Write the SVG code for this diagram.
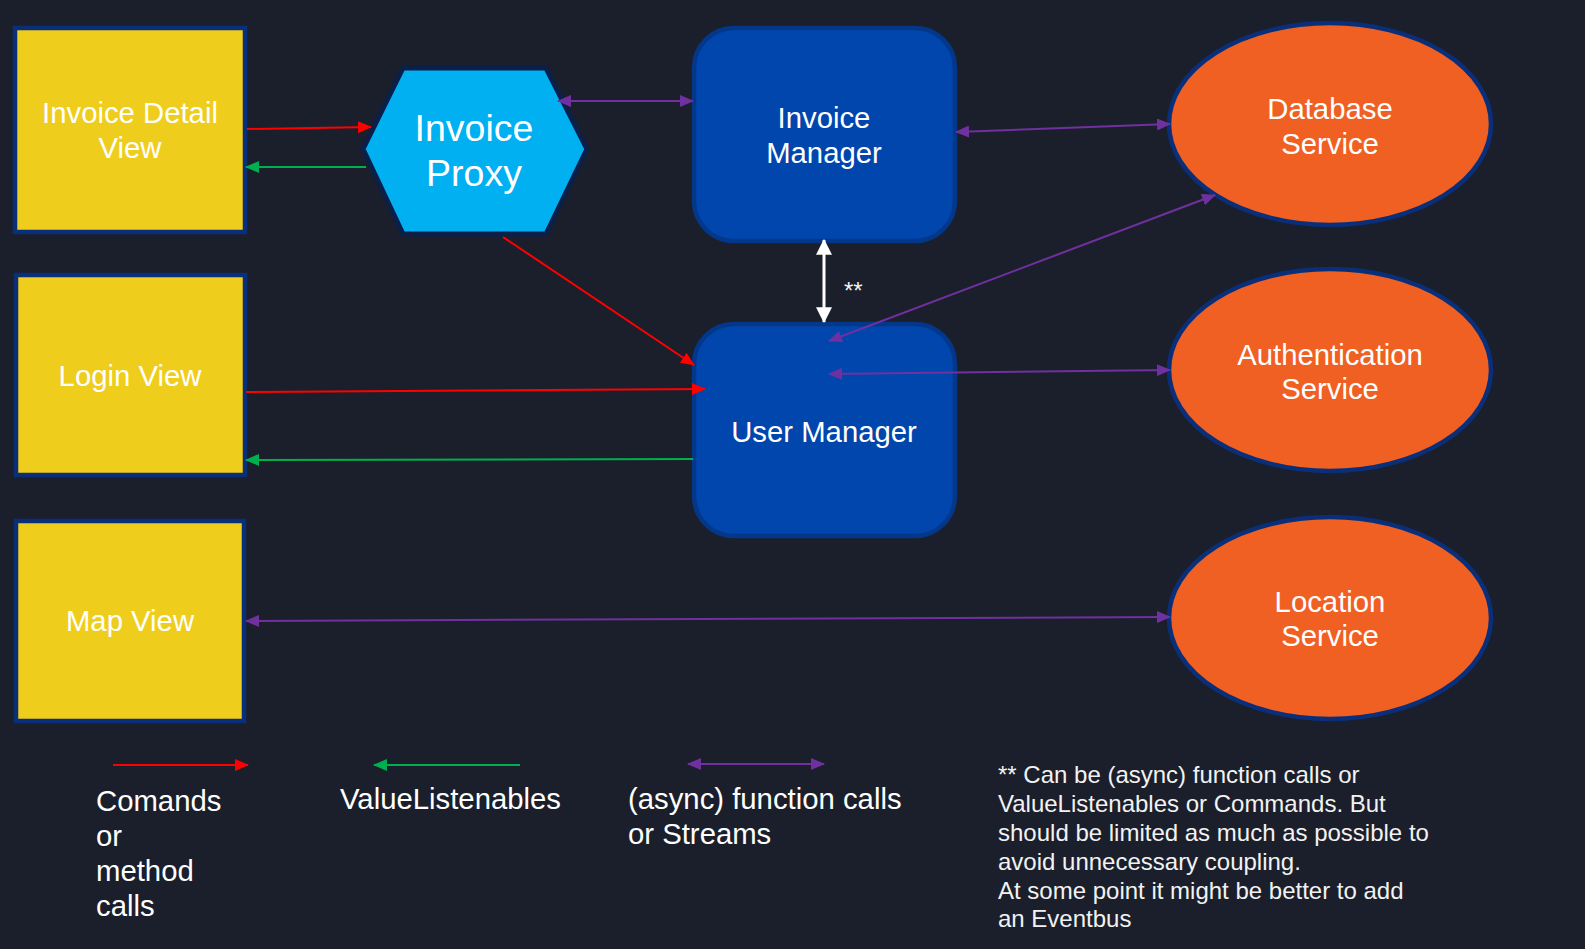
<svg xmlns="http://www.w3.org/2000/svg" width="1585" height="949" viewBox="0 0 1585 949">
<defs>
<marker id="aRed" viewBox="0 0 14 12" refX="13" refY="6" markerWidth="14" markerHeight="12" markerUnits="userSpaceOnUse" orient="auto-start-reverse"><path d="M0,0 L14,6 L0,12 z" fill="#FF0000"/></marker>
<marker id="aGreen" viewBox="0 0 14 12" refX="13" refY="6" markerWidth="14" markerHeight="12" markerUnits="userSpaceOnUse" orient="auto-start-reverse"><path d="M0,0 L14,6 L0,12 z" fill="#00B050"/></marker>
<marker id="aPurple" viewBox="0 0 14 12" refX="13" refY="6" markerWidth="14" markerHeight="12" markerUnits="userSpaceOnUse" orient="auto-start-reverse"><path d="M0,0 L14,6 L0,12 z" fill="#7030A0"/></marker>
<marker id="aWhite" viewBox="0 0 14 14" refX="13" refY="7" markerWidth="16" markerHeight="16" markerUnits="userSpaceOnUse" orient="auto-start-reverse"><path d="M0,0 L14,7 L0,14 z" fill="#FFFFFF"/></marker>
</defs>
<style>
.view{fill:#EFCD1D;stroke:#0A2F7A;stroke-width:4.5}
.proxy{fill:#00B0F0;stroke:#0A1F4A;stroke-width:5}
.mgr{fill:#0046AD;stroke:#03378A;stroke-width:4.5}
.svc{fill:#F06022;stroke:#0A2F7A;stroke-width:4.5}
.t{font-family:"Liberation Sans",Arial,sans-serif;fill:#FFFFFF;text-anchor:middle;font-size:29.3px}
.tb{font-family:"Liberation Sans",Arial,sans-serif;fill:#FFFFFF;text-anchor:middle;font-size:37.5px}
.leg{font-family:"Liberation Sans",Arial,sans-serif;fill:#FFFFFF;font-size:29.3px}
.note{font-family:"Liberation Sans",Arial,sans-serif;fill:#F2F2F2;font-size:24px}
.red{stroke:#FF0000;stroke-width:2;fill:none;marker-end:url(#aRed)}
.green{stroke:#00B050;stroke-width:2;fill:none;marker-end:url(#aGreen)}
.purple{stroke:#7030A0;stroke-width:2;fill:none;marker-start:url(#aPurple);marker-end:url(#aPurple)}
.white{stroke:#FFFFFF;stroke-width:3;fill:none;marker-start:url(#aWhite);marker-end:url(#aWhite)}
</style>
<rect width="1585" height="949" fill="#1B1F2B"/>

<g id="invoice-detail-view">
<rect class="view" x="15" y="28" width="230" height="204"/>
<text class="t" x="130" y="123">Invoice Detail</text>
<text class="t" x="130" y="158">View</text>
</g>
<g id="login-view">
<rect class="view" x="16" y="275" width="229" height="200"/>
<text class="t" x="130" y="386">Login View</text>
</g>
<g id="map-view">
<rect class="view" x="16" y="521" width="228" height="200"/>
<text class="t" x="130" y="631">Map View</text>
</g>
<g id="invoice-proxy">
<polygon class="proxy" points="363,149 403,68 546,68 587,149 546,234 403,234"/>
<text class="tb" x="474" y="141">Invoice</text>
<text class="tb" x="474" y="186">Proxy</text>
</g>
<g id="invoice-manager">
<rect class="mgr" x="694" y="28" width="261" height="213" rx="40"/>
<text class="t" x="824" y="128">Invoice</text>
<text class="t" x="824" y="163">Manager</text>
</g>
<g id="user-manager">
<rect class="mgr" x="694" y="324" width="261" height="212" rx="40"/>
<text class="t" x="824" y="442">User Manager</text>
</g>
<g id="database-service">
<ellipse class="svc" cx="1330" cy="124" rx="161" ry="101"/>
<text class="t" x="1330" y="119">Database</text>
<text class="t" x="1330" y="154">Service</text>
</g>
<g id="authentication-service">
<ellipse class="svc" cx="1330" cy="370" rx="161" ry="101"/>
<text class="t" x="1330" y="365">Authentication</text>
<text class="t" x="1330" y="399">Service</text>
</g>
<g id="location-service">
<ellipse class="svc" cx="1330" cy="618" rx="161" ry="101"/>
<text class="t" x="1330" y="612">Location</text>
<text class="t" x="1330" y="646">Service</text>
</g>

<g id="connectors">
<line class="red" x1="247" y1="129" x2="371" y2="127"/>
<line class="green" x1="366" y1="167" x2="246" y2="167"/>
<line class="purple" x1="558" y1="101" x2="693" y2="101"/>
<line class="purple" x1="956" y1="132" x2="1170" y2="124"/>
<line class="white" x1="824" y1="240" x2="824" y2="322"/>
<line class="purple" x1="829" y1="341" x2="1215" y2="195"/>
<line class="purple" x1="829" y1="374" x2="1170" y2="370"/>
<line class="red" x1="503" y1="237" x2="694" y2="365"/>
<line class="red" x1="246" y1="392" x2="705" y2="389"/>
<line class="green" x1="693" y1="459" x2="246" y2="460"/>
<line class="purple" x1="246" y1="621" x2="1170" y2="617"/>
<text class="note" x="844" y="299" font-size="22">**</text>
</g>

<g id="legend">
<line class="red" x1="113" y1="765" x2="248" y2="765"/>
<line class="green" x1="520" y1="765" x2="374" y2="765"/>
<line class="purple" x1="688" y1="764" x2="824" y2="764"/>
<text class="leg" x="96" y="811">Comands</text>
<text class="leg" x="96" y="846">or</text>
<text class="leg" x="96" y="881">method</text>
<text class="leg" x="96" y="916">calls</text>
<text class="leg" x="340" y="809">ValueListenables</text>
<text class="leg" x="628" y="809">(async) function calls</text>
<text class="leg" x="628" y="844">or Streams</text>
<text class="note" x="998" y="783">** Can be (async) function calls or</text>
<text class="note" x="998" y="812">ValueListenables or Commands. But</text>
<text class="note" x="998" y="841">should be limited as much as possible to</text>
<text class="note" x="998" y="870">avoid unnecessary coupling.</text>
<text class="note" x="998" y="899">At some point it might be better to add</text>
<text class="note" x="998" y="927">an Eventbus</text>
</g>
</svg>
